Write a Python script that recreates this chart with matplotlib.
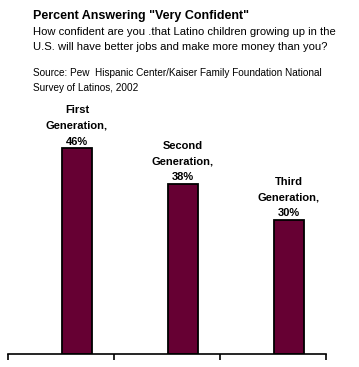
import matplotlib.pyplot as plt

plt.rcParams['font.family'] = ['Liberation Sans', 'DejaVu Sans']

# Data
generations = ["First\nGeneration,", "Second\nGeneration,", "Third\nGeneration,"]
values = [46, 38, 30]

W, H = 359, 367
fig = plt.figure(figsize=(W / 100, H / 100), dpi=100)

# axes placed by pixel edges
left, right, top, bottom = 8, 326, 130, 354
ax = fig.add_axes([left / W, (H - bottom) / H, (right - left) / W, (bottom - top) / H])

x = [0.65, 1.65, 2.65]
bars = ax.bar(x, values, width=0.28, color="#660033", edgecolor="black", linewidth=1.3)
ax.set_xlim(0, 3)
ax.set_ylim(0, 50)

for xi, v, name in zip(x, values, generations):
    ax.annotate(f"{name}\n{v}%", (xi, v), xytext=(0, 1), textcoords="offset points",
                ha="center", va="bottom", fontsize=8, fontweight="bold", linespacing=1.7)

# Axis styling
for s in ["top", "right", "left"]:
    ax.spines[s].set_visible(False)
ax.spines["bottom"].set_linewidth(1.2)
ax.set_yticks([])
ax.set_xticks([0, 1, 2, 3])
ax.set_xticklabels([])
ax.tick_params(axis="x", direction="out", length=4, width=1.2)

# Header text
fig.text(33 / W, 1 - 16 / H, 'Percent Answering "Very Confident"', fontsize=9, fontweight="bold", va="center")
fig.text(33 / W, 1 - 32 / H, "How confident are you .that Latino children growing up in the",
         fontsize=8.15, va="center")
fig.text(33 / W, 1 - 47 / H, "U.S. will have better jobs and make more money than you?",
         fontsize=8.15, va="center")
fig.text(33 / W, 1 - 73 / H, "Source: Pew  Hispanic Center/Kaiser Family Foundation National",
         fontsize=7.2, va="center")
fig.text(33 / W, 1 - 88 / H, "Survey of Latinos, 2002", fontsize=7.2, va="center")

fig.savefig("out.png", dpi=100)
